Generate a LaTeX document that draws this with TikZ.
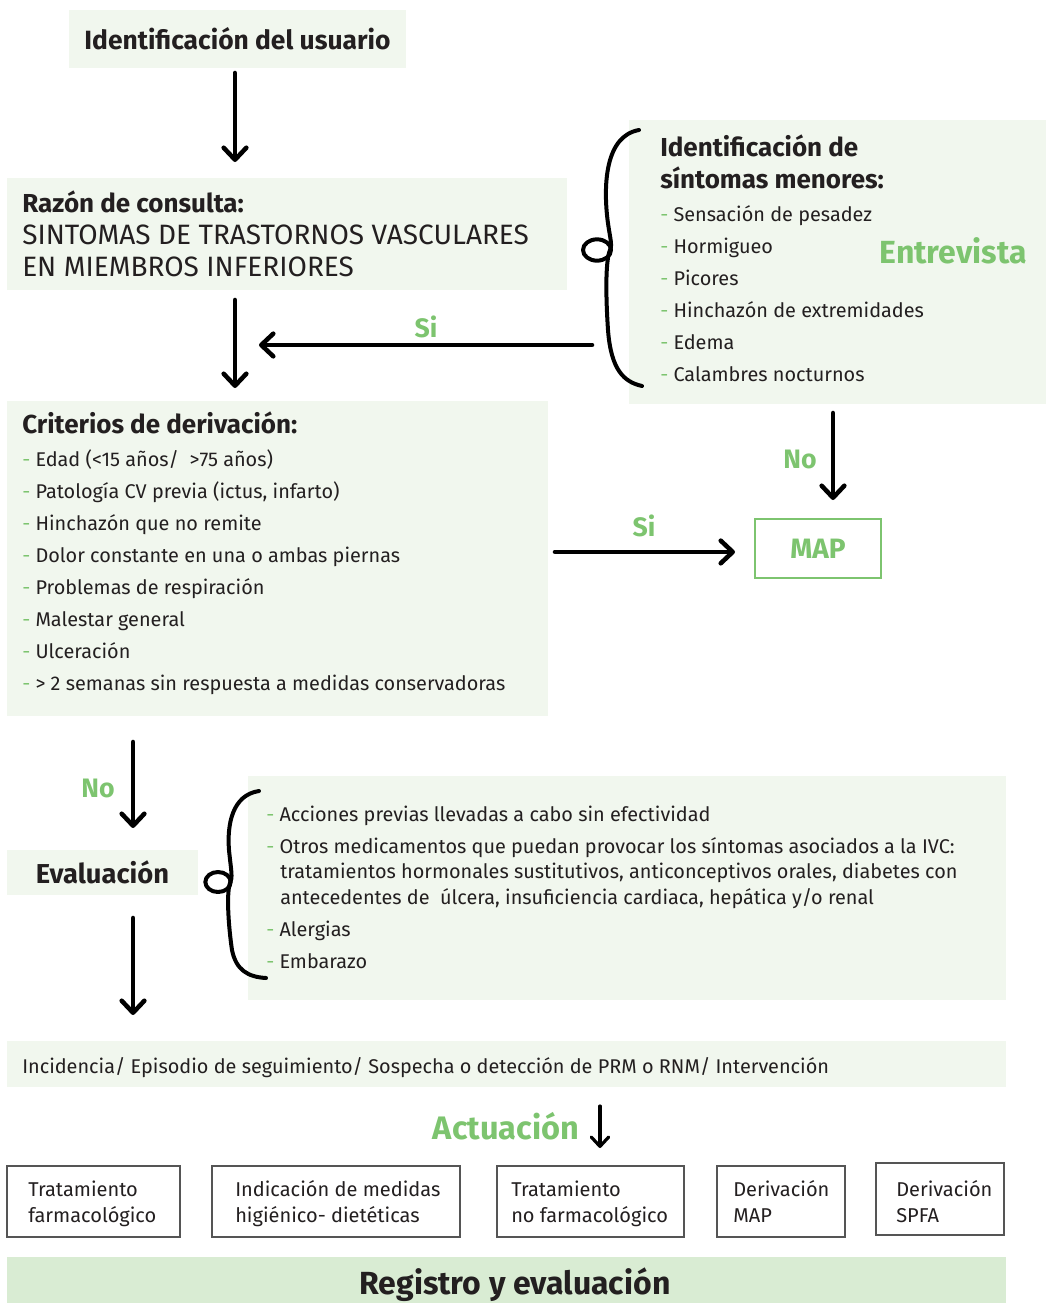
\documentclass[tikz,border=0pt]{standalone}
\usepackage{fontspec}
\setmainfont{Fira Sans}
\usetikzlibrary{arrows.meta,calc}
\definecolor{pf}{HTML}{F1F7EE}
\definecolor{gr}{HTML}{7DC46F}
\definecolor{rf}{HTML}{D9ECD3}
\definecolor{tc}{HTML}{231F20}
\definecolor{bx}{HTML}{555555}
\newcommand\gd{\textcolor{gr}{-} }
\begin{document}
\begin{tikzpicture}[x=0.75pt,y=-0.75pt,
  panel/.style={fill=pf,inner sep=0pt,outer sep=0pt,anchor=north west},
  wbox/.style={fill=white,draw=bx,line width=1.1pt,inner sep=0pt,outer sep=0pt,anchor=north west},
  txt/.style={anchor=mid west,inner sep=0pt,yshift=-3pt,text=tc,font=\fontsize{14.9}{18}\selectfont},
  ttl/.style={anchor=mid west,inner sep=0pt,yshift=-3.5pt,text=tc,font=\bfseries\fontsize{19.5}{23}\selectfont},
  big/.style={anchor=mid west,inner sep=0pt,yshift=-3.5pt,text=tc,font=\fontsize{21}{25}\selectfont},
  lbl/.style={inner sep=0pt,text=gr,font=\bfseries\fontsize{20}{24}\selectfont},
  arr/.style={line width=3.4pt,line cap=round,-{Straight Barb[length=9pt,width=17pt,round]}},
  brc/.style={line width=3pt,line cap=round,line join=round}]
\useasboundingbox (0,0) rectangle (1046,1303);

% panels
\node[panel,minimum width=252.75pt,minimum height=43.5pt,text=tc,font=\bfseries\fontsize{19.8}{23}\selectfont] (usr) at (69,10) {Identificación del usuario};
\node[panel,minimum width=420pt,minimum height=84pt] (rzn) at (7,178) {};
\node[panel,minimum width=405.75pt,minimum height=236.25pt] (crit) at (7,401) {};
\node[panel,minimum width=312.75pt,minimum height=213pt] (sint) at (629,120) {};
\node[draw=gr,line width=1.5pt,fill=white,minimum width=94.5pt,minimum height=44.25pt,inner sep=0pt,outer sep=0pt,text=gr,font=\bfseries\fontsize{21}{24}\selectfont] (map) at (818,548.5) {MAP};
\node[panel,minimum width=143.25pt,minimum height=33.75pt,text=tc,font=\bfseries\fontsize{20.5}{24}\selectfont] (eval) at (7,850) {Evaluación};
\node[panel,minimum width=568.5pt,minimum height=168pt] (evd) at (248,776) {};
\node[panel,minimum width=749.25pt,minimum height=34.5pt] (inc) at (7,1041) {};
\node[panel,fill=rf,minimum width=749.25pt,minimum height=34.5pt] (reg) at (7,1257) {};
\node[inner sep=0pt,text=tc,font=\bfseries\fontsize{24}{28}\selectfont] (regt) at (515,1285) {Registro y evaluación};

% Razón de consulta
\node[ttl] (rz1) at (22,204) {Razón de consulta:};
\node[big] (rz2) at (22,236) {SINTOMAS DE TRASTORNOS VASCULARES};
\node[big] (rz3) at (22,268) {EN MIEMBROS INFERIORES};

% síntomas menores
\node[ttl] (s0a) at (660,148) {Identificación de};
\node[ttl] (s0b) at (660,180) {síntomas menores:};
\node[txt] (s1) at (660,214) {\gd Sensación de pesadez};
\node[txt] (s2) at (660,246) {\gd Hormigueo};
\node[txt] (s3) at (660,278) {\gd Picores};
\node[txt] (s4) at (660,310) {\gd Hinchazón de extremidades};
\node[txt] (s5) at (660,342) {\gd Edema};
\node[txt] (s6) at (660,374) {\gd Calambres nocturnos};
\node[lbl,font=\bfseries\fontsize{24}{28}\selectfont] (entr) at (953,251) {Entrevista};

% Criterios
\node[ttl] (c0) at (22,425) {Criterios de derivación:};
\node[txt] (c1) at (22,459) {\gd Edad (<15 años/\ \ >75 años)};
\node[txt] (c2) at (22,491) {\gd Patología CV previa (ictus, infarto)};
\node[txt] (c3) at (22,523) {\gd Hinchazón que no remite};
\node[txt] (c4) at (22,555) {\gd Dolor constante en una o ambas piernas};
\node[txt] (c5) at (22,587) {\gd Problemas de respiración};
\node[txt] (c6) at (22,619) {\gd Malestar general};
\node[txt] (c7) at (22,651) {\gd Ulceración};
\node[txt] (c8) at (22,683) {\gd > 2 semanas sin respuesta a medidas conservadoras};

% Evaluación details
\node[txt] (e1) at (266,814) {\gd Acciones previas llevadas a cabo sin efectividad};
\node[txt] (e2) at (266,846) {\gd Otros medicamentos que puedan provocar los síntomas asociados a la IVC:};
\node[txt] (e2b) at (280,871) {tratamientos hormonales sustitutivos, anticonceptivos orales, diabetes con};
\node[txt] (e2c) at (280,897) {antecedentes de\ \ úlcera, insuficiencia cardiaca, hepática y/o renal};
\node[txt] (e3) at (266,929) {\gd Alergias};
\node[txt] (e4) at (266,961) {\gd Embarazo};

% Incidencia
\node[txt] (inct) at (22,1066) {Incidencia/ Episodio de seguimiento/ Sospecha o detección de PRM o RNM/ Intervención};

% Actuación
\node[lbl,font=\bfseries\fontsize{24.4}{28}\selectfont] (act) at (506,1126) {Actuación};

% bottom boxes
\node[wbox,minimum width=129.75pt,minimum height=53.25pt] (t1) at (7,1166) {};
\node[wbox,minimum width=186pt,minimum height=53.25pt] (t2) at (212,1166) {};
\node[wbox,minimum width=140.25pt,minimum height=53.25pt] (t3) at (497,1166) {};
\node[wbox,minimum width=96pt,minimum height=53.25pt] (t4) at (717,1166) {};
\node[wbox,minimum width=96pt,minimum height=54pt] (t5) at (876,1163) {};
\tikzset{btx/.style={anchor=west,inner sep=0pt,yshift=-1.5pt,text=tc,align=left,font=\fontsize{15}{19.5}\selectfont}}
\node[btx] (t1t) at (28,1202) {Tratamiento\\farmacológico};
\node[btx] (t2t) at (235,1202) {Indicación de medidas\\higiénico- dietéticas};
\node[btx] (t3t) at (511,1202) {Tratamiento\\no farmacológico};
\node[btx] (t4t) at (733,1199) {Derivación\\MAP};
\node[btx] (t5t) at (896,1200) {Derivación\\SPFA};

% braces
\draw[brc] (639,130) .. controls (605,136) and (604,185) .. (607,215)
  .. controls (609,235) and (613,245) .. (610,250)
  .. controls (605,262) and (606,300) .. (608,330)
  .. controls (611,370) and (624,382) .. (642,386);
\draw[brc] (597,250) ellipse [x radius=10.5pt, y radius=8pt];
\draw[brc] (259,791) .. controls (232,795) and (227,825) .. (229,850)
  .. controls (231,870) and (233,878) .. (230,883)
  .. controls (226,895) and (229,930) .. (232,950)
  .. controls (236,970) and (248,977) .. (266,978);
\draw[brc] (218,882) ellipse [x radius=9.5pt, y radius=7.5pt];

% connectors
\coordinate (brcA) at (592,345);
\coordinate (siEnd) at (259,345);
\draw[arr,shorten <=3.75pt,shorten >=12pt] ([xshift=-1.875pt]usr.south) -- ([xshift=-1.875pt]usr.south |- rzn.north);
\draw[arr,shorten <=7.5pt,shorten >=9.75pt] ([xshift=-1.875pt]usr.south |- rzn.south) -- ([xshift=-1.875pt]usr.south |- crit.north);
\draw[arr] (brcA) -- (siEnd);
\node[lbl] (si1) at (426,327) {Si};
\draw[arr,shorten <=6.75pt,shorten >=14.25pt] ([xshift=11.25pt]map.north |- sint.south) -- ([xshift=11.25pt]map.north);
\node[lbl] (no1) at (800,459) {No};
\draw[arr,shorten <=5.25pt,shorten >=15pt] ([yshift=-2.6pt]crit.east |- map.west) -- ([yshift=-2.6pt]map.west);
\node[lbl] (si2) at (644,526) {Si};
\draw[arr,shorten <=19.5pt,shorten >=16.5pt] ([xshift=22.9pt]eval.north |- crit.south) -- ([xshift=22.9pt]eval.north);
\node[lbl] (no2) at (98,788) {No};
\draw[arr,shorten <=17.25pt,shorten >=19.5pt] ([xshift=22.9pt]eval.south) -- ([xshift=22.9pt]eval.south |- inc.north);
\draw[line width=2.4pt,line cap=round,-{Straight Barb[length=7pt,width=13pt,round]},shorten <=14.25pt,shorten >=13.5pt] ([xshift=7.1pt]t3.north |- inc.south) -- ([xshift=7.1pt]t3.north);
\end{tikzpicture}
\end{document}
